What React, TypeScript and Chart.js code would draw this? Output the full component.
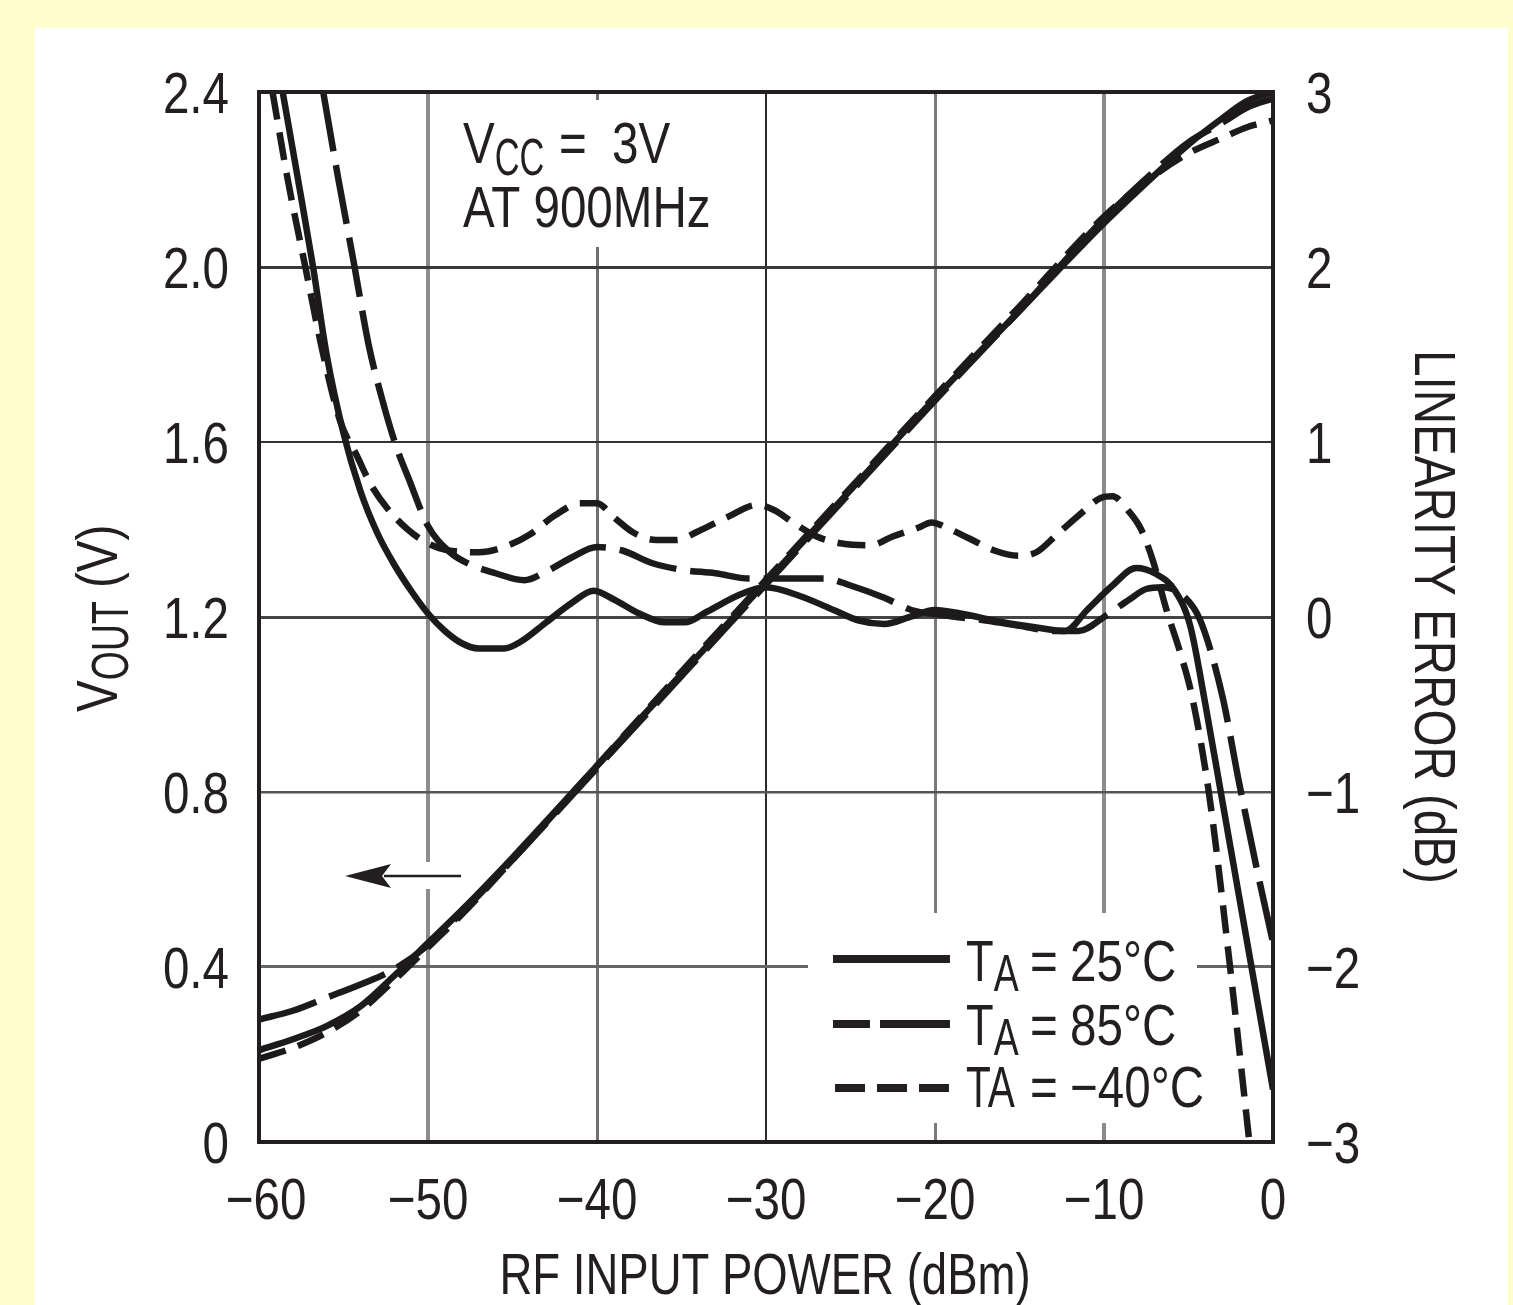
import React, { useEffect, useRef } from 'react';
import { Chart, registerables } from 'chart.js';

Chart.register(...registerables);

const FONT = "'Liberation Sans', Arial, Helvetica, sans-serif";
const NARROW = 0.82; // horizontal compression to mimic a condensed face
const INK = '#231F20';

// tick values
const xTicks = [-60, -50, -40, -30, -20, -10, 0];
const voutTicks = [0, 0.4, 0.8, 1.2, 1.6, 2.0, 2.4];
const errTicks = [-3, -2, -1, 0, 1, 2, 3];

// legend labels
const tempLabels = ['25°C', '85°C', '\u221240°C'];

// VOUT (V) vs RF input power (dBm)
const vout25: [number, number][] = [
  [-60, 0.21], [-58, 0.235], [-56, 0.265], [-54, 0.31], [-52, 0.38], [-50, 0.455],
  [-48, 0.53], [-45, 0.65], [-40, 0.86], [-35, 1.07], [-30, 1.28], [-25, 1.49],
  [-20, 1.70], [-15, 1.90], [-10, 2.10], [-7, 2.21], [-5, 2.28], [-3, 2.34],
  [-1.5, 2.38], [0, 2.40],
];
const vout85: [number, number][] = [
  [-60, 0.28], [-58, 0.30], [-56, 0.33], [-54, 0.36], [-52, 0.395], [-50, 0.45],
  [-48, 0.525], [-45, 0.645], [-40, 0.855], [-35, 1.065], [-30, 1.275], [-25, 1.485],
  [-20, 1.695], [-15, 1.90], [-10, 2.11], [-7, 2.22], [-5, 2.285], [-3, 2.33],
  [-1.5, 2.365], [0, 2.385],
];
const voutM40: [number, number][] = [
  [-60, 0.19], [-58, 0.215], [-56, 0.25], [-54, 0.30], [-52, 0.37], [-50, 0.445],
  [-48, 0.52], [-45, 0.645], [-40, 0.86], [-35, 1.075], [-30, 1.285], [-25, 1.495],
  [-20, 1.705], [-15, 1.91], [-10, 2.115], [-7, 2.21], [-5, 2.26], [-3, 2.295],
  [-1.5, 2.32], [0, 2.335],
];

// Linearity error (dB) vs RF input power (dBm)
const err25: [number, number][] = [
  [-58.6, 3.0], [-57.6, 2.45], [-56.8, 2.0], [-56.0, 1.5], [-55.0, 1.05], [-54.0, 0.72],
  [-53.0, 0.48], [-52.0, 0.30], [-51.0, 0.15], [-50.0, 0.02], [-49.0, -0.08], [-48.0, -0.15],
  [-47.0, -0.18], [-45.5, -0.18], [-44.5, -0.14], [-43.0, -0.03], [-41.5, 0.08], [-40.2, 0.15],
  [-39.0, 0.10], [-37.5, 0.02], [-36.0, -0.03], [-34.8, -0.03], [-33.5, 0.03], [-31.5, 0.13],
  [-30.0, 0.17], [-28.0, 0.12], [-26.0, 0.04], [-24.5, -0.02], [-23.0, -0.04], [-21.5, 0.0],
  [-20.0, 0.04], [-18.5, 0.02], [-16.0, -0.03], [-14.0, -0.06], [-12.3, -0.08], [-11.0, 0.04],
  [-9.5, 0.18], [-8.1, 0.28], [-7.0, 0.25], [-5.8, 0.15], [-4.9, -0.05], [-4.0, -0.5],
  [-3.0, -1.05], [-2.0, -1.6], [-1.0, -2.15], [0, -2.7],
];
const err85: [number, number][] = [
  [-56.2, 3.0], [-55.3, 2.5], [-54.4, 2.03], [-53.5, 1.55], [-52.7, 1.24], [-51.9, 0.98],
  [-51.1, 0.78], [-50.0, 0.52], [-48.7, 0.37], [-47.5, 0.30], [-46.0, 0.25], [-44.3, 0.21],
  [-43.0, 0.26], [-41.5, 0.34], [-40.0, 0.40], [-38.5, 0.38], [-36.8, 0.31], [-35.0, 0.27],
  [-33.0, 0.25], [-31.0, 0.22], [-29.0, 0.22], [-26.5, 0.22], [-25.0, 0.18], [-23.0, 0.11],
  [-21.4, 0.04], [-19.5, 0.01], [-17.0, -0.02], [-15.0, -0.05], [-13.0, -0.08], [-11.5, -0.08],
  [-10.0, 0.0], [-8.5, 0.10], [-7.5, 0.16], [-6.5, 0.17], [-5.3, 0.12], [-4.3, -0.02],
  [-3.0, -0.45], [-2.0, -0.95], [-1.0, -1.42], [0, -1.86],
];
const errM40: [number, number][] = [
  [-59.2, 3.0], [-58.3, 2.5], [-57.3, 2.02], [-56.2, 1.5], [-55.2, 1.12], [-54.2, 0.92],
  [-53.4, 0.76], [-52.4, 0.62], [-51.2, 0.50], [-50.0, 0.42], [-48.8, 0.38], [-47.0, 0.37],
  [-45.5, 0.40], [-44.0, 0.47], [-42.5, 0.58], [-41.0, 0.65], [-40.0, 0.65], [-39.0, 0.57],
  [-37.8, 0.48], [-36.5, 0.44], [-35.3, 0.44], [-34.0, 0.49], [-32.3, 0.57], [-30.5, 0.64],
  [-29.5, 0.61], [-28.4, 0.54], [-27.0, 0.46], [-25.5, 0.42], [-23.8, 0.41], [-22.5, 0.46],
  [-21.0, 0.51], [-20.2, 0.54], [-19.3, 0.51], [-18.0, 0.45], [-16.5, 0.38], [-15.0, 0.35],
  [-14.0, 0.37], [-12.8, 0.47], [-11.5, 0.58], [-10.2, 0.68], [-9.5, 0.69], [-8.5, 0.60],
  [-7.8, 0.50], [-7.1, 0.32], [-6.3, 0.04], [-5.5, -0.20], [-4.8, -0.45], [-3.8, -1.0],
  [-2.6, -1.95], [-1.4, -3.0],
];

const LONG_DASH = [60, 14];
const SHORT_DASH = [28, 13];

const fmtSigned = (v: number) => (v < 0 ? '\u2212' + Math.abs(v) : String(v));
const fmtVolt = (v: number) => (v === 0 ? '0' : v.toFixed(1));

const vGridStyle: Record<string, [string, number]> = {
  '-50': ['#8c8c8c', 4], '-40': ['#6e6e6e', 3], '-30': ['#2a2a2a', 2],
  '-20': ['#7a7a7a', 3], '-10': ['#8c8c8c', 4],
};
const hGridStyle: Record<string, [string, number]> = {
  '0.4': ['#666666', 3], '0.8': ['#555555', 2.5], '1.2': ['#444444', 3],
  '1.6': ['#333333', 2], '2.0': ['#3a3a3a', 3],
};

function txt(ctx: CanvasRenderingContext2D, s: string, x: number, y: number, size: number, sx = NARROW, align: CanvasTextAlign = 'left') {
  ctx.save();
  ctx.font = `${size}px ${FONT}`;
  ctx.textAlign = align;
  ctx.textBaseline = 'alphabetic';
  ctx.fillStyle = INK;
  ctx.translate(x, y);
  ctx.scale(sx, 1);
  ctx.fillText(s, 0, 0);
  const w = ctx.measureText(s).width * sx;
  ctx.restore();
  return w;
}

const decor = {
  id: 'decor',
  beforeDraw(chart: any) {
    const { ctx, width, height } = chart;
    ctx.save();
    ctx.fillStyle = '#FFFDCC';
    ctx.fillRect(0, 0, width, height);
    ctx.fillStyle = '#FFFFFF';
    ctx.fillRect(35, 28, 1473, height - 28);
    ctx.restore();
  },
  beforeDatasetsDraw(chart: any) {
    const { ctx } = chart;
    ctx.save();
    ctx.fillStyle = '#FFFFFF';
    ctx.fillRect(440, 100, 295, 147); // note box
    ctx.fillRect(808, 913, 389, 210); // legend box
    ctx.fillRect(419, 862, 18, 27); // arrow gap
    ctx.restore();
  },
  afterDatasetsDraw(chart: any) {
    const { ctx, chartArea: ca, scales } = chart;
    ctx.save();
    // frame
    ctx.strokeStyle = INK;
    ctx.lineWidth = 4;
    ctx.strokeRect(ca.left, ca.top, ca.right - ca.left, ca.bottom - ca.top);

    // tick labels, placed with the chart's scales
    const sxs = scales.x;
    sxs.ticks.forEach((t: any, i: number) => {
      const nudge = i === 0 ? 7 : 0;
      txt(ctx, fmtSigned(t.value), sxs.getPixelForValue(t.value) + nudge, ca.bottom + 77, 58, NARROW, 'center');
    });
    const sy = scales.y;
    sy.ticks.forEach((t: any) => {
      txt(ctx, fmtVolt(t.value), ca.left - 30, sy.getPixelForValue(t.value) + 21, 58, NARROW, 'right');
    });
    const sy2 = scales.y2;
    sy2.ticks.forEach((t: any) => {
      txt(ctx, fmtSigned(t.value), ca.right + 33, sy2.getPixelForValue(t.value) + 21, 58, NARROW, 'left');
    });

    // note
    let w = txt(ctx, 'V', 463, 163, 58);
    txt(ctx, 'CC', 463 + w, 175, 52, 0.66);
    txt(ctx, '=', 559, 163, 58);
    txt(ctx, '3V', 612, 163, 58);
    txt(ctx, 'AT 900MHz', 463, 227, 58, 0.82);

    // arrow
    ctx.strokeStyle = INK;
    ctx.fillStyle = INK;
    ctx.lineWidth = 2.5;
    ctx.beginPath();
    ctx.moveTo(384, 876);
    ctx.lineTo(461, 876);
    ctx.stroke();
    ctx.beginPath();
    ctx.moveTo(345, 876);
    ctx.lineTo(391, 864);
    ctx.lineTo(382, 876);
    ctx.lineTo(391, 888);
    ctx.closePath();
    ctx.fill();

    // legend
    const rows = [
      { y: 959, base: 981, dash: [] as number[] },
      { y: 1024, base: 1045, dash: [37, 10, 70, 10] },
      { y: 1088, base: 1107, dash: [30, 12] },
    ];
    rows.forEach((r, i) => {
      ctx.save();
      ctx.strokeStyle = INK;
      ctx.lineWidth = 8;
      ctx.setLineDash(r.dash);
      ctx.beginPath();
      ctx.moveTo(i === 2 ? 835 : 833, r.y);
      ctx.lineTo(950, r.y);
      ctx.stroke();
      ctx.restore();
      if (i < 2) {
        const tw = txt(ctx, 'T', 966, r.base, 58, 0.78);
        txt(ctx, 'A', 966 + tw, r.base + 10, 52, 0.72);
      } else {
        txt(ctx, 'TA', 966, r.base, 58, 0.7);
      }
      txt(ctx, '=', 1030, r.base, 58);
      txt(ctx, tempLabels[i], 1070, r.base, 58);
    });

    // left axis title: VOUT (V)
    ctx.save();
    ctx.translate(117, 712);
    ctx.rotate(-Math.PI / 2);
    w = txt(ctx, 'V', 0, 0, 58);
    const w2 = txt(ctx, 'OUT', w, 11, 52, 0.72);
    txt(ctx, ' (V)', w + w2, 0, 58);
    ctx.restore();

    // right axis title
    ctx.save();
    ctx.translate(1415, 350);
    ctx.rotate(Math.PI / 2);
    txt(ctx, 'LINEARITY ERROR (dB)', 0, 0, 58);
    ctx.restore();

    // x axis title
    txt(ctx, 'RF INPUT POWER (dBm)', 765, 1294, 58, 0.785, 'center');
    ctx.restore();
  },
};

const toXY = (arr: [number, number][]) => arr.map(([x, y]) => ({ x, y }));

export default function App() {
  const ref = useRef<HTMLCanvasElement>(null);
  useEffect(() => {
    document.body.style.margin = '0';
    const canvas = ref.current!;
    const lineBase = { borderColor: '#1c1a1b', borderWidth: 6.5, pointRadius: 0, fill: false, cubicInterpolationMode: 'monotone' as const, clip: 0 };
    const chart = new Chart(canvas, {
      type: 'line',
      data: {
        datasets: [
          { ...lineBase, label: 'VOUT 25°C', data: toXY(vout25), yAxisID: 'y' },
          { ...lineBase, label: 'VOUT 85°C', data: toXY(vout85), yAxisID: 'y', borderDash: LONG_DASH },
          { ...lineBase, label: 'VOUT -40°C', data: toXY(voutM40), yAxisID: 'y', borderDash: SHORT_DASH },
          { ...lineBase, label: 'Error 25°C', data: toXY(err25), yAxisID: 'y2' },
          { ...lineBase, label: 'Error 85°C', data: toXY(err85), yAxisID: 'y2', borderDash: LONG_DASH },
          { ...lineBase, label: 'Error -40°C', data: toXY(errM40), yAxisID: 'y2', borderDash: SHORT_DASH },
        ] as any,
      },
      options: {
        responsive: false,
        animation: false,
        layout: { padding: { top: 92, left: 0, right: 0, bottom: 0 } },
        plugins: { legend: { display: false }, tooltip: { enabled: false }, title: { display: false } },
        scales: {
          x: {
            type: 'linear',
            min: -60,
            max: 0,
            afterBuildTicks: (s: any) => { s.ticks = xTicks.map((v) => ({ value: v })); },
            afterFit: (s: any) => { s.height = 163; },
            border: { display: false },
            grid: {
              drawTicks: false,
              color: (c: any) => (vGridStyle[String(c.tick?.value)] || ['rgba(0,0,0,0)', 0])[0],
              lineWidth: (c: any) => (vGridStyle[String(c.tick?.value)] || ['', 0])[1],
            },
            ticks: { display: false, autoSkip: false, maxRotation: 0, callback: (v: any) => fmtSigned(Number(v)) },
          },
          y: {
            type: 'linear',
            position: 'left',
            min: 0,
            max: 2.4,
            afterBuildTicks: (s: any) => { s.ticks = voutTicks.map((v) => ({ value: v })); },
            afterFit: (s: any) => { s.width = 259; },
            border: { display: false },
            grid: {
              drawTicks: false,
              color: (c: any) => (hGridStyle[Number(c.tick?.value).toFixed(1)] || ['rgba(0,0,0,0)', 0])[0],
              lineWidth: (c: any) => (hGridStyle[Number(c.tick?.value).toFixed(1)] || ['', 0])[1],
            },
            ticks: { display: false, autoSkip: false, callback: (v: any) => fmtVolt(Number(v)) },
          },
          y2: {
            type: 'linear',
            position: 'right',
            min: -3,
            max: 3,
            afterBuildTicks: (s: any) => { s.ticks = errTicks.map((v) => ({ value: v })); },
            afterFit: (s: any) => { s.width = 240; },
            border: { display: false },
            grid: { display: false, drawTicks: false },
            ticks: { display: false, autoSkip: false, callback: (v: any) => fmtSigned(Number(v)) },
          },
        },
      } as any,
      plugins: [decor],
    });
    return () => chart.destroy();
  }, []);
  return (
    <canvas
      ref={ref}
      width={1513}
      height={1305}
      style={{ display: 'block', position: 'absolute', left: 0, top: 0, width: 1513, height: 1305 }}
    />
  );
}
